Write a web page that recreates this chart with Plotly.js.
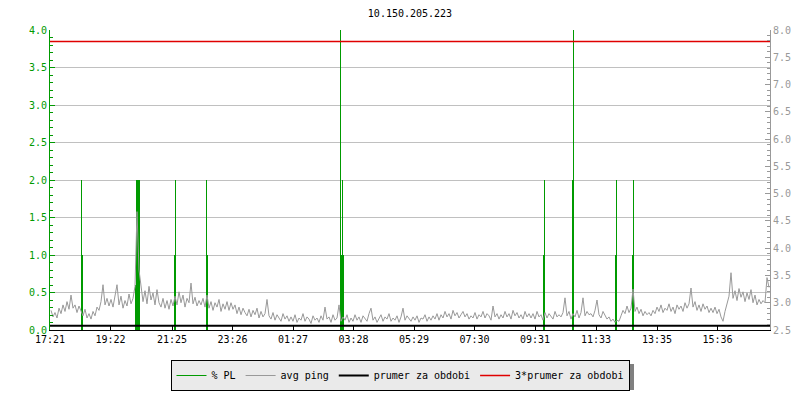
<!DOCTYPE html>
<html>
<head>
<meta charset="utf-8">
<script src="https://cdn.plot.ly/plotly-3.0.1.min.js"></script>
<style>html,body{margin:0;padding:0;background:#fff}#chart{width:800px;height:400px}</style>
</head>
<body>
<div id="chart"></div>
<script>
// ---- data ----
const titleText = '10.150.205.223';
const seriesNames = ['% PL', 'avg ping', 'prumer za obdobi', '3*prumer za obdobi'];

// x-axis ticks (time of day)
const tickTimes = ['2024-05-14 17:21','2024-05-14 19:22','2024-05-14 21:25','2024-05-14 23:26',
  '2024-05-15 01:27','2024-05-15 03:28','2024-05-15 05:29','2024-05-15 07:30',
  '2024-05-15 09:31','2024-05-15 11:33','2024-05-15 13:35','2024-05-15 15:36'];
const tickLabels = ['17:21','19:22','21:25','23:26','01:27','03:28','05:29','07:30','09:31','11:33','13:35','15:36'];

const rangeStart = '2024-05-14 17:21';
const rangeEnd = '2024-05-15 17:21';
const pingStepMin = 4;   // one avg ping sample every 4 minutes

// avg ping [ms], right axis
const avgPing = [
  2.86,2.74,2.82,2.72,2.90,2.80,2.96,2.84,3.02,2.88,3.14,2.90,2.96,2.82,2.94,
  2.84,2.76,2.88,2.72,2.80,2.70,2.84,2.76,2.92,2.86,3.02,3.33,2.96,3.08,2.94,
  3.06,2.92,3.10,3.33,2.96,3.12,2.90,3.04,2.94,3.16,2.98,3.08,3.30,4.67,3.60,
  3.28,3.02,3.22,2.98,3.30,3.05,3.18,2.96,3.24,3.00,2.92,3.08,2.90,3.04,2.88,
  3.06,2.94,3.12,2.96,3.20,3.00,3.14,2.92,3.08,3.00,3.36,2.98,3.10,2.94,3.04,
  2.96,3.08,2.92,3.14,2.90,3.02,2.86,3.00,2.92,3.06,2.84,2.98,2.88,3.02,2.86,
  3.00,2.88,2.96,2.80,2.92,2.78,2.90,2.82,2.76,2.88,2.74,2.86,2.78,2.90,2.72,
  2.84,2.74,2.80,3.06,2.76,2.70,2.82,2.68,2.78,2.72,2.66,2.80,2.70,2.76,2.66,
  2.74,2.66,2.78,2.64,2.72,2.68,2.80,2.66,2.74,2.70,2.62,2.76,2.68,2.72,2.64,
  2.76,2.68,2.92,2.70,2.74,2.64,2.78,2.68,2.72,2.96,2.66,2.74,2.68,2.78,2.64,
  2.72,2.66,2.78,2.68,2.74,2.64,2.76,2.70,2.66,2.80,2.90,2.68,2.74,2.64,2.72,
  2.78,2.66,2.74,2.70,2.80,2.66,2.72,2.68,2.76,2.64,2.74,2.90,2.68,2.76,2.70,
  2.66,2.74,2.68,2.76,2.64,2.72,2.70,2.78,2.66,2.74,2.68,2.76,2.70,2.80,2.68,
  2.78,2.72,2.84,2.74,2.80,2.70,2.86,2.76,2.82,2.72,2.78,2.84,2.74,2.80,2.70,
  2.76,2.72,2.82,2.70,2.78,2.74,2.84,2.72,2.80,2.76,2.68,2.94,2.74,2.80,2.70,
  2.78,2.72,2.84,2.74,2.80,2.70,2.86,2.76,2.82,2.72,2.78,2.70,2.84,2.74,2.80,
  2.72,2.80,2.70,2.84,2.74,2.78,2.68,2.82,2.72,2.80,2.76,2.70,2.84,2.74,2.78,
  2.74,2.82,3.09,2.76,2.84,2.70,2.80,2.74,2.86,2.72,2.82,3.09,2.76,2.84,2.78,
  2.80,2.74,2.86,3.05,2.78,2.72,2.84,2.76,2.70,2.74,2.66,2.70,2.64,2.68,2.66,
  2.76,2.86,2.80,2.94,2.82,2.90,3.25,2.84,2.92,2.80,2.88,2.76,2.84,2.78,2.82,
  2.76,2.86,2.80,2.92,2.84,2.96,2.82,2.90,2.86,2.98,2.84,2.92,2.80,2.96,2.88,
  2.94,2.84,3.00,2.90,2.98,3.27,2.92,3.02,2.86,2.96,2.84,2.98,2.88,2.94,2.82,
  2.90,2.82,2.92,2.80,2.88,2.74,2.66,2.84,2.98,3.12,3.55,3.08,3.22,3.04,3.26,
  3.10,3.20,3.02,3.18,3.06,3.24,3.00,3.14,2.96,3.06,2.98,3.04,3.00,3.46,3.28
];

// packet loss [%], left axis (non-zero samples only)
const plTimes = ['2024-05-14 18:24','2024-05-14 18:26',
  '2024-05-14 20:12','2024-05-14 20:14','2024-05-14 20:16','2024-05-14 20:18','2024-05-14 20:20',
  '2024-05-14 21:30','2024-05-14 21:32',
  '2024-05-14 22:34','2024-05-14 22:36',
  '2024-05-15 03:02','2024-05-15 03:04','2024-05-15 03:06','2024-05-15 03:08',
  '2024-05-15 09:48','2024-05-15 09:50',
  '2024-05-15 10:46','2024-05-15 10:48',
  '2024-05-15 12:12','2024-05-15 12:14',
  '2024-05-15 12:46','2024-05-15 12:48'];
const plValues = [2.0,1.0,
  0.6,2.0,2.0,2.0,2.0,
  1.0,2.0,
  2.0,1.0,
  4.0,1.0,2.0,1.0,
  1.0,2.0,
  2.0,4.0,
  1.0,2.0,
  1.0,2.0];

const prumer = 2.58;       // period average [ms]
const prumer3 = 7.79;      // 3 * period average [ms]

// ---- build traces ----
function addMinutes(s, m) {
  const p = s.split(/[- :]/).map(Number);
  const d = new Date(Date.UTC(p[0], p[1]-1, p[2], p[3], p[4]) + m*60000);
  return d.toISOString().slice(0,19).replace('T',' ');
}
const pingTimes = avgPing.map((_, i) => addMinutes(rangeStart, i*pingStepMin + pingStepMin/2));

const plX = [], plY = [];
plTimes.forEach((t, i) => { plX.push(t, t, null); plY.push(0, plValues[i], null); });

const GREEN = '#009a00', GRAY = '#999999', MONO = 'DejaVu Sans Mono';

const traces = [
  {x: plX, y: plY, name: seriesNames[0], type: 'scatter', mode: 'lines',
   line: {color: GREEN, width: 1}, yaxis: 'y', hoverinfo: 'skip'},
  {x: pingTimes, y: avgPing, name: seriesNames[1], type: 'scatter', mode: 'lines',
   line: {color: GRAY, width: 1}, yaxis: 'y2'},
  {x: [rangeStart, rangeEnd], y: [prumer, prumer], name: seriesNames[2], type: 'scatter', mode: 'lines',
   line: {color: '#000000', width: 2}, yaxis: 'y2'},
  {x: [rangeStart, rangeEnd], y: [prumer3, prumer3], name: seriesNames[3], type: 'scatter', mode: 'lines',
   line: {color: '#e00000', width: 1.5}, yaxis: 'y2'}
];

// legend drop shadow (pixel box of the legend, offset 3px), converted to paper units
const PLOT = {l: 50, t: 30, w: 720, h: 300};
const shadowPx = {x0: 174, x1: 634, y0: 364, y1: 390};
const px2x = p => (p - PLOT.l) / PLOT.w;
const px2y = p => (PLOT.t + PLOT.h - p) / PLOT.h;

const layout = {
  width: 800, height: 400,
  margin: {l: PLOT.l, r: 800 - PLOT.l - PLOT.w, t: PLOT.t, b: 400 - PLOT.t - PLOT.h},
  paper_bgcolor: '#ffffff', plot_bgcolor: '#ffffff',
  font: {family: MONO, size: 10, color: '#000'},
  title: {text: titleText, font: {family: MONO, size: 10, color: '#000'},
          x: 0.5, xref: 'paper', xanchor: 'center', y: 0.9675, yref: 'container', yanchor: 'middle'},
  showlegend: true,
  legend: {orientation: 'h', x: 0.5, xref: 'container', xanchor: 'center',
           y: 0.1, yref: 'container', yanchor: 'top',
           bgcolor: '#eaeaea', bordercolor: '#000', borderwidth: 1,
           font: {family: MONO, size: 10, color: '#000'}, itemwidth: 30, traceorder: 'normal'},
  shapes: [{type: 'rect', xref: 'paper', yref: 'paper', layer: 'above',
            x0: px2x(shadowPx.x0), x1: px2x(shadowPx.x1), y0: px2y(shadowPx.y0), y1: px2y(shadowPx.y1),
            fillcolor: '#808080', line: {width: 0}}],
  xaxis: {type: 'date', range: [rangeStart, rangeEnd],
          tickmode: 'array', tickvals: tickTimes, ticktext: tickLabels,
          showgrid: false, zeroline: false, showline: true, linecolor: '#000', linewidth: 1,
          ticks: 'inside', ticklen: 4, tickcolor: '#000', tickfont: {family: MONO, size: 10, color: '#000'}},
  yaxis: {range: [0, 4], dtick: 0.5, tick0: 0, tickformat: '.1f',
          showgrid: true, gridcolor: '#c0c0c0', gridwidth: 1, zeroline: false,
          showline: true, linecolor: GREEN, linewidth: 1,
          ticks: 'inside', ticklen: 5, tickcolor: GREEN,
          tickfont: {family: MONO, size: 10, color: GREEN},
          minor: {dtick: 0.1, ticks: 'inside', ticklen: 3, tickcolor: GREEN, showgrid: false}},
  yaxis2: {range: [2.5, 8.0], dtick: 0.5, tick0: 2.5, tickformat: '.1f', overlaying: 'y', side: 'right',
          showgrid: false, zeroline: false, showline: true, linecolor: GRAY, linewidth: 1,
          ticks: 'inside', ticklen: 5, tickcolor: GRAY,
          tickfont: {family: MONO, size: 10, color: GRAY},
          minor: {dtick: 0.1, ticks: 'inside', ticklen: 3, tickcolor: GRAY, showgrid: false}}
};

Plotly.newPlot('chart', traces, layout, {displayModeBar: false, staticPlot: true});
</script>
</body>
</html>
